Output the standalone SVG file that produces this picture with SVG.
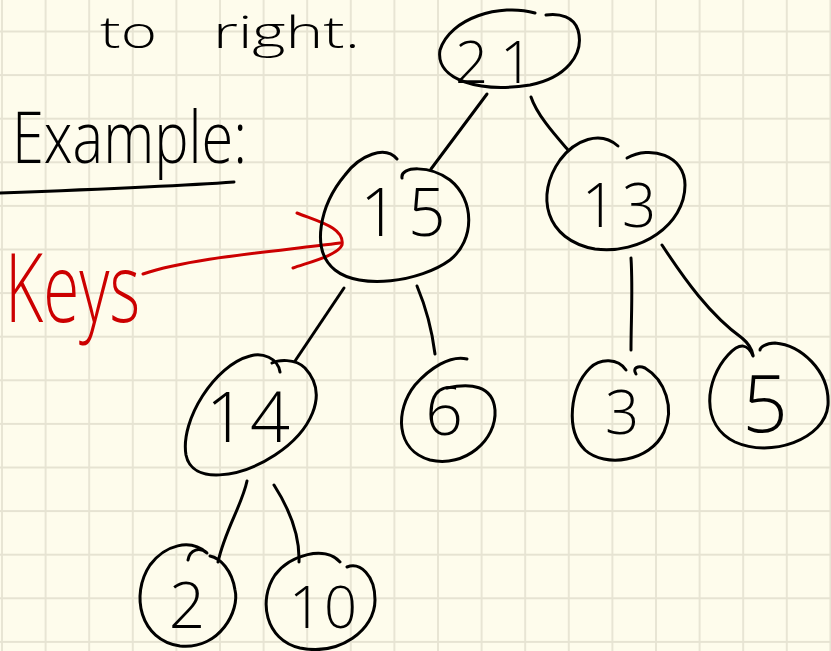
<svg xmlns="http://www.w3.org/2000/svg" width="831" height="651" viewBox="0 0 831 651">
  <defs>
    <pattern id="grid" x="1" y="30.5" width="43.6" height="43.6" patternUnits="userSpaceOnUse">
      <path d="M 1 0 V 43.6 M 0 1 H 43.6" fill="none" stroke="#e6e3d2" stroke-width="1.8"/>
    </pattern>
    <style>
      .ink { fill: none; stroke: #000; stroke-width: 3; stroke-linecap: round; stroke-linejoin: round; }
      .red { fill: none; stroke: #cc0000; stroke-width: 3; stroke-linecap: round; stroke-linejoin: round; }
      .hand { font-family: "Open Sans", "DejaVu Sans", sans-serif; font-weight: 300; fill: #000; }
      .num { font-family: "Open Sans", "DejaVu Sans", sans-serif; font-weight: 300; fill: #000; text-anchor: middle; }
    </style>
  </defs>

  <!-- paper -->
  <rect width="831" height="651" fill="#fefcec"/>
  <rect width="831" height="651" fill="url(#grid)"/>

  <!-- heading notes -->
  <g id="notes">
    <text class="hand" x="100" y="48" font-size="44" textLength="57" lengthAdjust="spacingAndGlyphs">to</text>
    <text class="hand" x="213" y="48" font-size="44" textLength="147" lengthAdjust="spacingAndGlyphs">right.</text>
    <text class="hand" x="12" y="163" font-size="72" textLength="235" lengthAdjust="spacingAndGlyphs">Example:</text>
    <path class="ink" d="M 0 193 C 80 190, 180 186, 234 182"/>
  </g>

  <!-- red annotation -->
  <g id="keys">
    <text x="5" y="322" font-size="95" textLength="135" lengthAdjust="spacingAndGlyphs" font-family="'Open Sans', 'DejaVu Sans', sans-serif" font-weight="300" fill="#cc0000">Keys</text>
    <path class="red" d="M 143 274 C 190 258, 270 252, 340 243"/>
    <path class="red" d="M 297 213 C 320 222, 345 228, 342 245 C 338 255, 310 262, 293 268"/>
  </g>

  <!-- tree edges -->
  <g id="connectors">
    <path class="ink" d="M 487 94 L 431 169"/>
    <path class="ink" d="M 531 97 C 537 115, 555 135, 568 150"/>
    <path class="ink" d="M 344 288 L 295 361"/>
    <path class="ink" d="M 417 286 C 425 305, 432 330, 435 354"/>
    <path class="ink" d="M 631 258 C 633 290, 631 320, 631 350"/>
    <path class="ink" d="M 662 245 C 685 280, 710 315, 742 338 C 748 343, 752 350, 753 355"/>
    <path class="ink" d="M 247 481 C 242 505, 225 530, 218 562"/>
    <path class="ink" d="M 274 485 C 290 510, 300 535, 299 562"/>
  </g>

  <!-- tree nodes -->
  <g id="node-21">
    <path class="ink" d="M 535 13 C 500 3, 450 18, 440 50 C 435 80, 480 93, 530 85 C 565 78, 585 55, 578 30 C 574 17, 560 13, 546 15"/>
    <text class="num" x="500" y="83" font-size="58" letter-spacing="12">21</text>
  </g>
  <g id="node-15">
    <path class="ink" d="M 397 159 C 385 145, 360 155, 345 175 C 320 205, 310 250, 335 270 C 360 290, 420 282, 450 260 C 475 240, 475 200, 450 180 C 430 165, 400 166, 402 178"/>
    <text class="num" x="408" y="236" font-size="66" letter-spacing="10">15</text>
  </g>
  <g id="node-13">
    <path class="ink" d="M 618 146 C 600 130, 575 140, 560 160 C 535 195, 545 240, 595 249 C 640 255, 685 225, 685 185 C 685 155, 650 145, 627 158"/>
    <text class="num" x="622" y="227" font-size="60" letter-spacing="6">13</text>
  </g>
  <g id="node-14">
    <path class="ink" d="M 280 372 C 278 358, 262 352, 250 356 C 215 365, 180 420, 186 455 C 192 485, 240 478, 275 455 C 310 432, 330 395, 305 368 C 295 358, 278 360, 272 363"/>
    <text class="num" x="250" y="442" font-size="70" letter-spacing="4">14</text>
  </g>
  <g id="node-6">
    <path class="ink" d="M 467 359 C 450 355, 430 368, 415 385 C 395 410, 395 450, 430 460 C 465 468, 497 440, 495 410 C 493 385, 470 383, 447 388"/>
    <text class="num" x="444" y="435" font-size="66">6</text>
  </g>
  <g id="node-3">
    <path class="ink" d="M 626 370 C 618 358, 600 358, 590 368 C 570 388, 565 430, 585 450 C 605 468, 650 462, 664 432 C 675 408, 665 380, 645 368 C 638 365, 632 368, 636 374"/>
    <text class="num" x="622" y="434" font-size="60">3</text>
  </g>
  <g id="node-5">
    <path class="ink" d="M 753 356 C 748 344, 740 342, 728 355 C 705 380, 700 425, 735 442 C 770 458, 825 440, 828 405 C 830 370, 800 345, 775 343 C 765 343, 760 348, 760 350"/>
    <text class="num" x="765" y="432" font-size="80">5</text>
  </g>
  <g id="node-2">
    <path class="ink" d="M 188 560 C 190 549, 200 547, 207 553 C 190 538, 165 545, 150 565 C 130 595, 140 640, 180 646 C 220 650, 240 610, 235 590 C 232 570, 220 558, 210 556"/>
    <text class="num" x="187" y="628" font-size="64">2</text>
  </g>
  <g id="node-10">
    <path class="ink" d="M 340 562 C 325 545, 290 555, 275 575 C 258 600, 265 640, 300 648 C 340 656, 375 630, 375 600 C 375 575, 360 562, 347 567"/>
    <text class="num" x="324" y="628" font-size="58" letter-spacing="2">10</text>
  </g>
</svg>
